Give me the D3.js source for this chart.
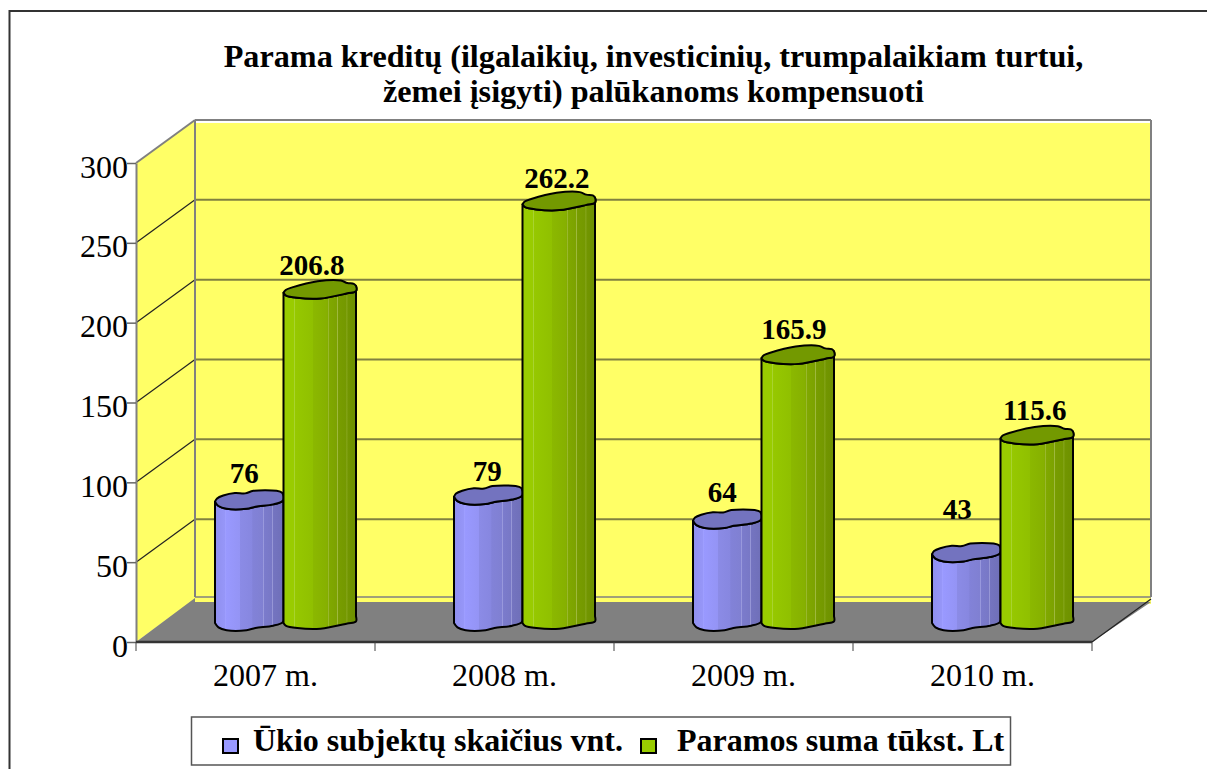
<!DOCTYPE html>
<html>
<head>
<meta charset="utf-8">
<script src="https://cdn.jsdelivr.net/npm/d3@7"></script>
<style>
  html, body { margin: 0; padding: 0; background: #fff; overflow: hidden; }
  svg { display: block; }
  text { font-family: "Liberation Serif", serif; fill: #000; }
</style>
</head>
<body>
<div id="chart"></div>
<script>
(function() {
  var categories = ['2007 m.', '2008 m.', '2009 m.', '2010 m.'];
  var seriesNames = ['Ūkio subjektų skaičius vnt.', 'Paramos suma tūkst. Lt'];
  var subjects = [76, 79, 64, 43];
  var support = [206.8, 262.2, 165.9, 115.6];
  var yTicks = [0, 50, 100, 150, 200, 250, 300];
  var titleLines = ['Parama kreditų (ilgalaikių, investicinių, trumpalaikiam turtui,', 'žemei įsigyti) palūkanoms kompensuoti'];

  var width = 1207, height = 769;
  // oblique depth of the 3d box
  var depthX = 59, depthY = -43, barDepth = 19;

  var svg = d3.select('#chart').append('svg')
      .attr('width', width)
      .attr('height', height);
  var defs = svg.append('defs');

  var xPositionScale = d3.scaleBand().domain(categories).range([136, 1092]);
  var yPositionScale = d3.scaleLinear().domain([0, 300]).range([642, 163]);
  var seriesScale = d3.scaleBand().domain([0, 1]).range([0, 137]);
  var barOffset = 79;

  // outer frame, open at the right and bottom
  svg.append('path')
    .attr('d', 'M9.5,769V11H1207')
    .attr('fill', 'none')
    .attr('stroke', '#333')
    .attr('stroke-width', 2);

  // title
  svg.append('g').selectAll('text')
    .data(titleLines)
    .enter().append('text')
    .attr('x', 653.5)
    .attr('y', function(d, i) { return 66.5 + i * 35.5; })
    .attr('text-anchor', 'middle')
    .attr('font-weight', 'bold')
    .attr('font-size', 32.2)
    .text(function(d) { return d; });

  // walls
  var x0 = xPositionScale.range()[0], x1 = xPositionScale.range()[1];
  var yBase = yPositionScale(0), yTop = yPositionScale(300);
  var poly = function(pts) { return 'M' + pts.map(function(p) { return p.join(','); }).join('L') + 'Z'; };

  svg.append('path')
    .attr('d', poly([[x0, yBase], [x0 + depthX, yBase + depthY], [x0 + depthX, yTop + depthY], [x0, yTop]]))
    .attr('fill', '#ffff66');
  svg.append('rect')
    .attr('x', x0 + depthX)
    .attr('y', yTop + depthY + 3)
    .attr('width', x1 - x0)
    .attr('height', yBase - yTop + 2)
    .attr('fill', '#ffff66');
  svg.append('path')
    .attr('d', poly([[x0, yBase], [x0 + depthX, yBase + depthY - 1], [x0 + depthX, yBase + depthY + 3], [x1 + depthX, yBase + depthY + 3], [x1, yBase]]))
    .attr('fill', '#808080');

  // gridlines
  var grid = svg.append('g');
  yTicks.forEach(function(t) {
    var y = yPositionScale(t);
    if (t > 0) {
      grid.append('line')
        .attr('x1', x0).attr('y1', y)
        .attr('x2', x0 + depthX).attr('y2', y + depthY)
        .attr('stroke', t == 300 ? '#808080' : '#222')
        .attr('stroke-width', t == 300 ? 2 : 1.2);
      grid.append('line')
        .attr('x1', x0 + depthX).attr('y1', y + depthY)
        .attr('x2', x1 + depthX).attr('y2', y + depthY)
        .attr('stroke', t == 300 ? '#808080' : '#808040')
        .attr('stroke-width', 2);
    }
  });
  grid.append('path')
    .attr('d', 'M' + (x0 + depthX) + ',' + (yBase + depthY - 2) + 'V' + (yTop + depthY) + 'M' + (x1 + depthX) + ',' + (yTop + depthY) + 'V' + (yBase + depthY - 2))
    .attr('fill', 'none')
    .attr('stroke', '#808080')
    .attr('stroke-width', 2);
  grid.append('line')
    .attr('x1', x1 + depthX).attr('y1', yBase + depthY)
    .attr('x2', x1).attr('y2', yBase)
    .attr('stroke', '#222')
    .attr('stroke-width', 1.2);
  grid.append('line')
    .attr('x1', x0 + depthX).attr('y1', yBase + depthY - 2)
    .attr('x2', x1 + depthX).attr('y2', yBase + depthY - 2)
    .attr('stroke', '#808080')
    .attr('stroke-width', 1.5);

  // axes
  var yAxis = d3.axisLeft(yPositionScale).tickValues(yTicks).tickSize(9).tickSizeOuter(0);
  var yG = svg.append('g').attr('class', 'axis y-axis')
    .attr('transform', 'translate(' + x0 + ',0)')
    .call(yAxis);
  yG.selectAll('text').attr('font-size', 32).attr('dy', '0.44em').attr('x', -8);
  yG.selectAll('.domain').attr('stroke', '#808080').attr('stroke-width', 2);
  yG.selectAll('line').attr('stroke', '#666').attr('stroke-width', 1.5);

  var xAxis = d3.axisBottom(xPositionScale).tickSize(0);
  var xG = svg.append('g').attr('class', 'axis x-axis')
    .attr('transform', 'translate(10,' + yBase + ')')
    .call(xAxis);
  xG.selectAll('text').attr('font-size', 32).attr('y', 44).attr('dy', 0);
  xG.select('.domain').remove();
  var xLine = svg.append('g').attr('transform', 'translate(0,' + yBase + ')');
  xLine.append('line')
    .attr('x1', x0).attr('x2', x1)
    .attr('stroke', '#333').attr('stroke-width', 2.5);
  xLine.selectAll('.boundary')
    .data(d3.range(categories.length + 1))
    .enter().append('line')
    .attr('x1', function(i) { return x0 + i * xPositionScale.bandwidth(); })
    .attr('x2', function(i) { return x0 + i * xPositionScale.bandwidth(); })
    .attr('y1', 0).attr('y2', 9)
    .attr('stroke', '#404040');

  // bar outline is a wobbly cylinder, unit coords of the lid
  var lidUpper = [[
    [0, .6], [.03, .42], [.12, .26], [.29, .12], [.44, .14], [.56, 0], [.9, 0], [.98, .1], [1, .3]
  ], [
    [0, .68], [.03, .52], [.12, .38], [.47, .04], [.79, 0], [.88, .14], [.97, .18], [1, .3]
  ]];
  var lidLower = [[
    [1, .3], [.99, .55], [.85, .75], [.59, .88], [.46, 1], [.17, 1], [.05, .84], [0, .6]
  ], [
    [1, .3], [1, .59], [.88, .71], [.51, 1], [.19, .96], [.03, .82], [0, .68]
  ]];
  var lidHeight = 18;
  var curve = d3.line().curve(d3.curveCatmullRom.alpha(0.5));

  var gradients = [
    { id: 'blueBody', stops: [[0, '#8f8fef'], [.14, '#9696f8'], [.15, '#a0a0ff'], [.16, '#9999ff'], [.36, '#9494f5'], [.37, '#8b8be6'], [.54, '#8787e0'], [.55, '#8282d8'], [.7, '#8080d2'], [.71, '#a0a0e0'], [.72, '#7b7bcc'], [.83, '#7878c6'], [.84, '#9a9ad8'], [.85, '#7474c0'], [1, '#6f6fb8']] },
    { id: 'greenBody', stops: [[0, '#99cc00'], [.14, '#99cc00'], [.15, '#aad433'], [.16, '#96c800'], [.4, '#90c000'], [.41, '#8bb800'], [.6, '#86b000'], [.61, '#80a800'], [.62, '#a3bf40'], [.63, '#80a800'], [.73, '#7ca200'], [.74, '#a0ba40'], [.75, '#789d00'], [.86, '#749800'], [.87, '#94b030'], [.88, '#729600'], [1, '#6e9000']] }
  ];
  gradients.forEach(function(g) {
    var lg = defs.append('linearGradient').attr('id', g.id).attr('x1', 0).attr('x2', 1).attr('y1', 0).attr('y2', 0);
    g.stops.forEach(function(s) {
      lg.append('stop').attr('offset', s[0]).attr('stop-color', s[1]);
    });
  });
  var lidColors = ['#7373bf', '#739900'];

  function drawBar(g, cat, value, s) {
    var left = xPositionScale(cat) + barOffset + seriesScale(s);
    var w = seriesScale.bandwidth() + (s == 1 ? 4 : 0);
    var topY = yPositionScale(value) - barDepth - lidHeight * lidUpper[s][0][1];
    var bottomY = yPositionScale(0) - barDepth - lidHeight * lidUpper[s][0][1];
    var pt = function(oy) {
      return function(p) { return [left + p[0] * w, oy + p[1] * lidHeight]; };
    };
    // body: lower lid shape shifted down, up the left side, then the lid's front edge back
    var lowerTop = lidLower[s].map(pt(topY));
    var lowerBottom = lidLower[s].map(pt(bottomY));
    var d = curve(lowerBottom) +
      'L' + lowerTop[lowerTop.length - 1].join(',') +
      curve(lowerTop.slice().reverse()).replace(/^M/, 'L') +
      'L' + lowerBottom[0].join(',') + 'Z';
    g.append('path')
      .attr('d', d)
      .attr('fill', 'url(#' + gradients[s].id + ')')
      .attr('stroke', '#000')
      .attr('stroke-width', 2)
      .attr('stroke-linejoin', 'round');
    var lid = lidUpper[s].map(pt(topY)).concat(lidLower[s].slice(1).map(pt(topY)));
    g.append('path')
      .attr('d', curve(lid) + 'Z')
      .attr('fill', lidColors[s])
      .attr('stroke', '#000')
      .attr('stroke-width', 2)
      .attr('stroke-linejoin', 'round');
  }

  var bars = svg.append('g');
  categories.forEach(function(cat, i) {
    drawBar(bars, cat, subjects[i], 0);
    drawBar(bars, cat, support[i], 1);
  });

  // data labels, nudged by hand the way they sit over each lid
  var labelLift = [[19, 16, 19, 35], [18, 16, 19, 18]];
  var labelShift = [[-5, -1, -5, -9], [-6, 0, -2, 0]];
  var labels = svg.append('g');
  [subjects, support].forEach(function(values, s) {
    values.forEach(function(v, i) {
      labels.append('text')
        .attr('x', xPositionScale(categories[i]) + barOffset + seriesScale(s) + seriesScale.bandwidth() / 2 + labelShift[s][i])
        .attr('y', yPositionScale(v) - barDepth - labelLift[s][i])
        .attr('text-anchor', 'middle')
        .attr('font-weight', 'bold')
        .attr('font-size', 29)
        .text(v);
    });
  });

  // legend
  var legend = svg.append('g');
  legend.append('rect')
    .attr('x', 191.5).attr('y', 717)
    .attr('width', 819).attr('height', 48)
    .attr('fill', '#fff')
    .attr('stroke', '#555')
    .attr('stroke-width', 1.5);
  var legendFill = ['#9999ff', '#99cc00'];
  var legendX = [223, 641];
  seriesNames.forEach(function(name, i) {
    legend.append('rect')
      .attr('x', legendX[i]).attr('y', 739)
      .attr('width', 15).attr('height', 14)
      .attr('fill', legendFill[i])
      .attr('stroke', '#000')
      .attr('stroke-width', 2);
    legend.append('text')
      .attr('x', legendX[i] + (i == 1 ? 36 : 30))
      .attr('y', 751)
      .attr('font-weight', 'bold')
      .attr('font-size', 32)
      .text(name);
  });
})()
</script>
</body>
</html>
